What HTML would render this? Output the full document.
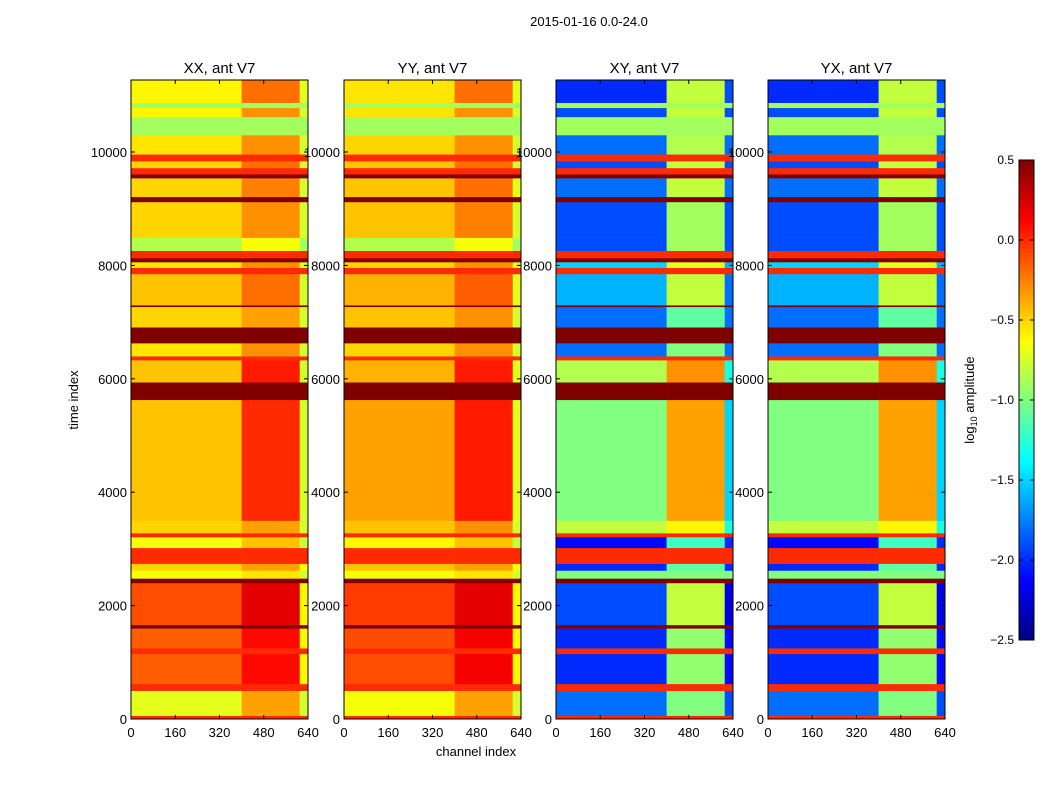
<!DOCTYPE html>
<html><head><meta charset="utf-8"><style>
body{margin:0;background:#fff;font-family:"Liberation Sans",sans-serif}
svg text{font-family:"Liberation Sans",sans-serif}
</style></head><body>
<svg id="fig" width="1050" height="800" viewBox="0 0 1050 800">
<text x="589" y="26" font-size="13" text-anchor="middle">2015-01-16 0.0-24.0</text>
<text x="476" y="756" font-size="13" text-anchor="middle">channel index</text>
<text x="78" y="400" font-size="13" text-anchor="middle" transform="rotate(-90 78 400)">time index</text>
<g id="panels"></g>
<g id="cbar"></g>
<text x="974" y="400" font-size="13" text-anchor="middle" transform="rotate(-90 974 400)">log<tspan font-size="9" dy="3">10</tspan><tspan dy="-3"> amplitude</tspan></text>
</svg>
<script>
const bandStarts=[0,60,500,620,1150,1250,1600,1660,2400,2480,2620,2740,3020,3210,3280,3500,5630,5940,6330,6400,6630,6910,7270,7300,7850,7960,8060,8130,8260,8490,9120,9210,9540,9610,9720,9840,9960,10300,10620,10780,10870];
const timeMax=11270;
const xxMain=[0,-0.7,0,-0.15,0,-0.15,0.5,-0.1,0.5,-0.65,-0.5,0,-0.65,0,-0.5,-0.45,0.5,-0.45,0,-0.55,0.5,-0.5,0.5,-0.45,0,-0.55,0.5,0,-0.85,-0.5,0.5,-0.5,0.5,0,-0.5,0,-0.55,-0.9,-0.6,-0.9,-0.6];
const xxMid=[0,-0.35,0,0.1,0,0.1,0.5,0.2,0.5,-0.55,-0.35,0,-0.45,0,-0.35,0.0,0.5,0.05,0,-0.3,0.5,-0.35,0.5,-0.2,0,-0.3,0.5,0,-0.65,-0.3,0.5,-0.25,0.5,0,-0.2,0,-0.3,-0.9,-0.3,-0.9,-0.2];
const xxEdge=[0,-0.75,0,-0.6,0,-0.6,0.5,-0.6,0.5,-0.75,-0.65,0,-0.8,0,-0.75,-0.75,0.5,-0.75,0,-0.75,0.5,-0.75,0.5,-0.75,0,-0.75,0.5,0,-0.9,-0.75,0.5,-0.75,0.5,0,-0.75,0,-0.75,-0.9,-0.75,-0.9,-0.7];
const yyMain=[0,-0.65,0,-0.1,0,-0.1,0.5,-0.05,0.5,-0.65,-0.45,0,-0.6,0,-0.45,-0.35,0.5,-0.4,0,-0.5,0.5,-0.45,0.5,-0.4,0,-0.5,0.5,0,-0.85,-0.45,0.5,-0.45,0.5,0,-0.45,0,-0.5,-0.9,-0.55,-0.9,-0.55];
const yyMid=[0,-0.35,0,0.15,0,0.15,0.5,0.2,0.5,-0.55,-0.35,0,-0.45,0,-0.3,0.05,0.5,0.05,0,-0.3,0.5,-0.3,0.5,-0.15,0,-0.3,0.5,0,-0.65,-0.25,0.5,-0.2,0.5,0,-0.2,0,-0.3,-0.9,-0.3,-0.9,-0.2];
const yyEdge=[0,-0.75,0,-0.6,0,-0.6,0.5,-0.6,0.5,-0.75,-0.65,0,-0.8,0,-0.75,-0.7,0.5,-0.7,0,-0.75,0.5,-0.75,0.5,-0.7,0,-0.75,0.5,0,-0.9,-0.75,0.5,-0.7,0.5,0,-0.75,0,-0.75,-0.9,-0.75,-0.9,-0.7];
const xyMain=[0,-1.8,0,-2.0,0,-2.0,0.5,-1.9,0.5,-1.0,-2.0,0,-2.1,0,-0.8,-1.0,0.5,-0.85,0,-1.8,0.5,-1.8,0.5,-1.6,0,-1.5,0.5,0,-1.9,-1.9,0.5,-1.8,0.5,0,-1.9,0,-1.8,-0.9,-1.9,-0.9,-2.0];
const xyMid=[0,-1.0,0,-0.95,0,-0.95,0.5,-0.8,0.5,-1.0,-1.1,0,-1.2,0,-0.6,-0.35,0.5,-0.3,0,-1.0,0.5,-1.1,0.5,-0.8,0,-0.7,0.5,0,-0.9,-0.9,0.5,-0.8,0.5,0,-0.8,0,-0.85,-0.9,-0.8,-0.9,-0.8];
const xyEdge=[0,-1.9,0,-2.1,0,-2.1,0.5,-2.2,0.5,-1.0,-2.0,0,-2.0,0,-1.3,-1.5,0.5,-1.3,0,-1.8,0.5,-1.8,0.5,-1.8,0,-1.6,0.5,0,-1.9,-1.9,0.5,-1.8,0.5,0,-1.9,0,-1.8,-0.9,-1.9,-0.9,-1.9];
const yxMain=[0,-1.8,0,-2.0,0,-2.0,0.5,-1.9,0.5,-1.0,-2.0,0,-2.1,0,-0.8,-1.0,0.5,-0.85,0,-1.8,0.5,-1.8,0.5,-1.6,0,-1.5,0.5,0,-1.9,-1.9,0.5,-1.8,0.5,0,-1.9,0,-1.8,-0.9,-1.9,-0.9,-2.0];
const yxMid=[0,-1.0,0,-0.95,0,-0.95,0.5,-0.8,0.5,-1.0,-1.1,0,-1.2,0,-0.6,-0.35,0.5,-0.3,0,-1.0,0.5,-1.1,0.5,-0.8,0,-0.7,0.5,0,-0.9,-0.9,0.5,-0.8,0.5,0,-0.8,0,-0.85,-0.9,-0.8,-0.9,-0.8];
const yxEdge=[0,-1.9,0,-2.1,0,-2.1,0.5,-2.2,0.5,-1.0,-2.0,0,-2.0,0,-1.3,-1.5,0.5,-1.3,0,-1.8,0.5,-1.8,0.5,-1.8,0,-1.6,0.5,0,-1.9,-1.9,0.5,-1.8,0.5,0,-1.9,0,-1.8,-0.9,-1.9,-0.9,-1.9];
const channelSplits=[0,400,610,640];
const chanMax=640;
const xTicks=[0,160,320,480,640];
const yTicks=[0,2000,4000,6000,8000,10000];
const cbTicks=[0.5,0.0,-0.5,-1.0,-1.5,-2.0,-2.5];
const vmin=-2.5,vmax=0.5;
const panelTitles=["XX, ant V7","YY, ant V7","XY, ant V7","YX, ant V7"];
const panelLeft=[131,344,556,768];
const panelData=[[xxMain,xxMid,xxEdge],[yyMain,yyMid,yyEdge],[xyMain,xyMid,xyEdge],[yxMain,yxMid,yxEdge]];
const W=177,pTop=80,pBot=719;
const NS="http://www.w3.org/2000/svg";
function jet(v){let t=(v-vmin)/(vmax-vmin);t=Math.max(0,Math.min(1,t));
 const f=x=>Math.max(0,Math.min(1,x));
 const r=f(1.5-Math.abs(4*t-3)),g=f(1.5-Math.abs(4*t-2)),b=f(1.5-Math.abs(4*t-1));
 return `rgb(${Math.round(r*255)},${Math.round(g*255)},${Math.round(b*255)})`;}
const yS=t=>pBot-(t/timeMax)*(pBot-pTop);
function el(tag,attrs,parent){const e=document.createElementNS(NS,tag);for(const k in attrs)e.setAttribute(k,attrs[k]);parent.appendChild(e);return e;}
const panels=document.getElementById('panels');
panelLeft.forEach((x0,p)=>{
 const xS=c=>x0+c/chanMax*W;
 const g=el('g',{},panels);
 
 
 bandStarts.forEach((s,i)=>{
  const e=i+1<bandStarts.length?bandStarts[i+1]:timeMax;
  for(let k=0;k<3;k++){
   const c0=channelSplits[k],c1=channelSplits[k+1],v=panelData[p][k][i];
   const r=el('rect',{x:xS(c0),y:yS(e),width:xS(c1)-xS(c0)+0.3,height:yS(s)-yS(e)+0.3,fill:jet(v)},g);
   
   
  }
 });
 el('rect',{x:x0,y:pTop,width:W,height:pBot-pTop,fill:'none',stroke:'#000'},g);
 const t=el('text',{x:x0+W/2,y:pTop-7,'font-size':15,'text-anchor':'middle'},g);t.textContent=panelTitles[p];
 
 
 xTicks.forEach(c=>{el('line',{x1:xS(c),x2:xS(c),y1:pBot,y2:pBot-4,stroke:'#000'},g);
  el('line',{x1:xS(c),x2:xS(c),y1:pTop,y2:pTop+4,stroke:'#000'},g);
  const tx=el('text',{x:xS(c),y:pBot+18,'font-size':13,'text-anchor':'middle'},g);tx.textContent=c;
  
  });
 yTicks.forEach(v=>{el('line',{x1:x0,x2:x0+4,y1:yS(v),y2:yS(v),stroke:'#000'},g);
  el('line',{x1:x0+W,x2:x0+W-4,y1:yS(v),y2:yS(v),stroke:'#000'},g);
  const ty=el('text',{x:x0-4,y:yS(v)+5,'font-size':13,'text-anchor':'end'},g);ty.textContent=v;
  
  });
});
const cb=document.getElementById('cbar');
const cx=1019,cw=15,ct=160,cbot=640,N=120;
for(let i=0;i<N;i++){const v=vmin+(vmax-vmin)*(i+0.5)/N;
 el('rect',{x:cx,y:cbot-(i+1)*(cbot-ct)/N,width:cw,height:(cbot-ct)/N+0.5,fill:jet(v)},cb);}
el('rect',{x:cx,y:ct,width:cw,height:cbot-ct,fill:'none',stroke:'#000'},cb);
cbTicks.forEach(v=>{const y=cbot-(v-vmin)/(vmax-vmin)*(cbot-ct);
 el('line',{x1:cx,x2:cx+4,y1:y,y2:y,stroke:'#000'},cb);
 el('line',{x1:cx+cw-4,x2:cx+cw,y1:y,y2:y,stroke:'#000'},cb);
 const t=el('text',{x:cx-5,y:y+4,'font-size':12,'text-anchor':'end'},cb);t.textContent=v.toFixed(1).replace('-','\u2212');
 
 });
</script>
</body></html>
